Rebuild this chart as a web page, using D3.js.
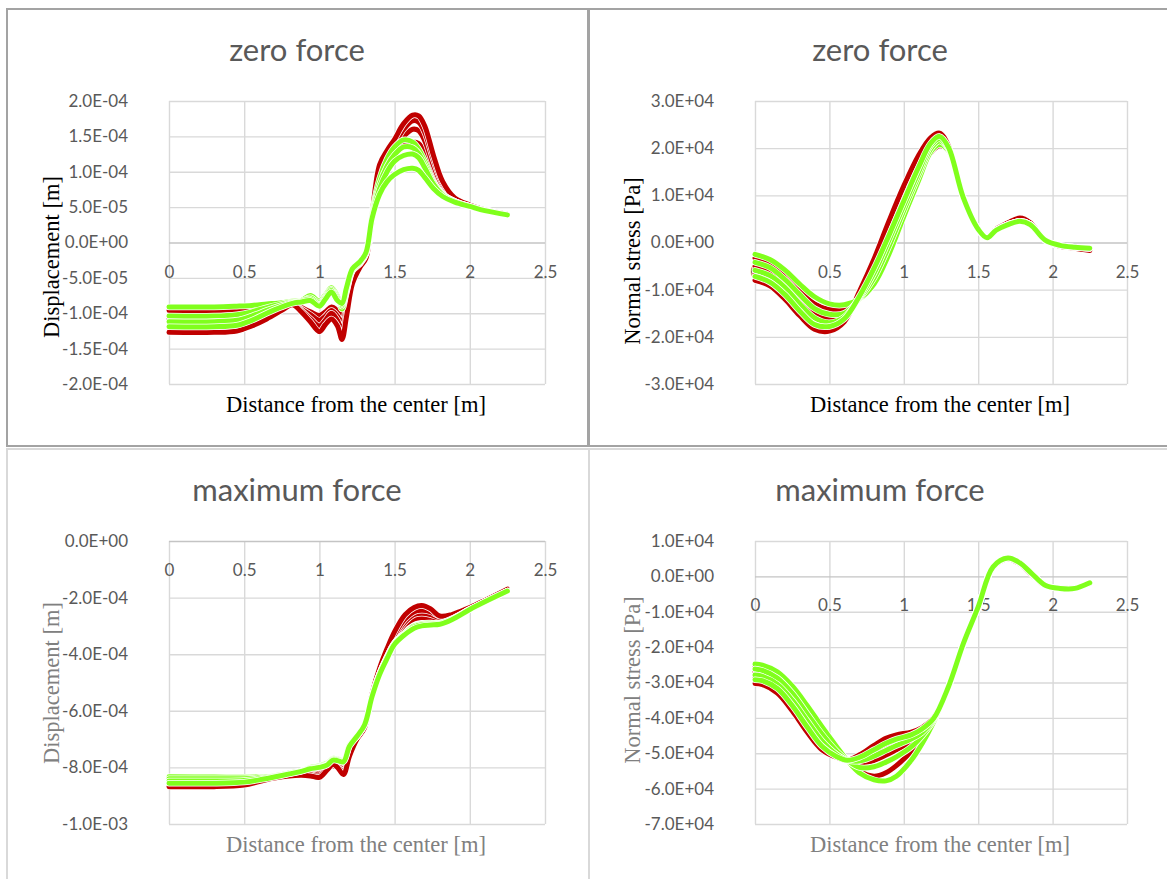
<!DOCTYPE html>
<html>
<head>
<meta charset="utf-8">
<script src="https://cdn.jsdelivr.net/npm/d3@7"></script>
<style>
  html, body { margin: 0; padding: 0; background: #fff; }
  svg { display: block; }
</style>
</head>
<body>
<div id="chart"></div>
<script>
// ---------- data ----------
// Displacement, zero force (values in 1e-5 m)
const xZeroDisp = [0, 0.3, 0.45, 0.55, 0.65, 0.75, 0.82, 0.88, 0.94, 1.0, 1.04, 1.08, 1.12, 1.15, 1.18, 1.22, 1.27, 1.31, 1.35, 1.4, 1.45, 1.5, 1.56, 1.62, 1.66, 1.7, 1.76, 1.82, 1.9, 2.0, 2.1, 2.25];
const zeroDispRed = [
  [-9.6, -9.6, -9.5, -9.3, -9.0, -8.7, -8.6, -9.2, -9.8, -10.3, -9.8, -9.1, -9.6, -10.3, -8.5, -5.0, -3.2, -2.0, 3.0, 9.5, 11.5, 12.8, 13.8, 14.2, 14.0, 12.8, 9.8, 7.6, 6.0, 5.2, 4.6, 4.0],
  [-10.8, -10.8, -10.6, -10.2, -9.6, -9.0, -8.6, -9.4, -10.2, -11.0, -10.4, -9.6, -10.4, -11.5, -9.0, -5.2, -3.3, -2.0, 3.5, 10.0, 12.0, 13.5, 15.0, 16.0, 15.8, 14.4, 10.8, 8.0, 6.1, 5.2, 4.6, 4.0],
  [-12.0, -12.0, -11.8, -11.2, -10.3, -9.3, -8.7, -9.6, -10.8, -11.8, -11.0, -10.0, -11.0, -12.6, -9.8, -5.5, -3.4, -2.1, 3.8, 10.5, 12.5, 14.0, 16.0, 17.2, 17.0, 15.6, 11.6, 8.3, 6.2, 5.2, 4.6, 4.0],
  [-12.7, -12.7, -12.5, -11.8, -10.8, -9.6, -8.8, -9.8, -11.2, -12.6, -11.6, -10.8, -11.8, -13.7, -10.5, -5.8, -3.5, -2.2, 4.0, 11.0, 13.0, 14.6, 16.8, 18.0, 17.9, 16.5, 12.2, 8.6, 6.3, 5.3, 4.6, 4.0]
];
const zeroDispGreen = [
  [-9.1, -9.1, -9.0, -8.9, -8.7, -8.5, -8.3, -8.2, -7.5, -8.3, -7.4, -6.4, -7.6, -9.4, -7.0, -4.0, -3.0, -1.6, 4.0, 9.0, 11.8, 13.5, 14.5, 14.2, 13.2, 11.5, 8.5, 6.8, 5.8, 5.1, 4.5, 3.9],
  [-10.4, -10.4, -10.2, -9.8, -9.2, -8.7, -8.4, -8.3, -7.8, -8.6, -7.6, -6.6, -7.8, -9.0, -6.8, -3.9, -2.9, -1.5, 3.8, 8.2, 10.8, 12.4, 13.5, 13.4, 12.6, 11.0, 8.4, 6.8, 5.8, 5.1, 4.5, 3.9],
  [-11.2, -11.2, -11.0, -10.4, -9.6, -8.9, -8.5, -8.3, -8.0, -8.8, -7.8, -6.8, -8.0, -8.8, -6.6, -3.8, -2.8, -1.5, 3.6, 7.6, 10.0, 11.5, 12.3, 12.5, 12.0, 10.6, 8.2, 6.7, 5.8, 5.1, 4.5, 3.9],
  [-11.9, -11.9, -11.7, -11.0, -10.0, -9.1, -8.6, -8.4, -8.2, -9.0, -8.0, -7.0, -8.2, -8.6, -6.4, -3.7, -2.7, -1.4, 3.4, 6.8, 8.6, 9.6, 10.3, 10.5, 10.2, 9.2, 7.6, 6.5, 5.7, 5.1, 4.5, 3.9]
];

// Normal stress, zero force (values in 1e4 Pa)
const xZeroStress = [0, 0.1, 0.2, 0.3, 0.4, 0.5, 0.6, 0.7, 0.8, 0.9, 1.0, 1.1, 1.18, 1.24, 1.3, 1.4, 1.5, 1.56, 1.62, 1.7, 1.78, 1.85, 1.95, 2.05, 2.15, 2.25];
const zeroStressRed = [
  [-0.33, -0.45, -0.70, -1.02, -1.30, -1.42, -1.40, -1.15, -0.65, 0.05, 0.75, 1.45, 1.90, 2.05, 1.95, 0.95, 0.28, 0.10, 0.28, 0.42, 0.50, 0.41, 0.05, -0.08, -0.12, -0.15],
  [-0.50, -0.62, -0.88, -1.22, -1.52, -1.62, -1.55, -1.15, -0.55, 0.18, 0.90, 1.60, 2.05, 2.20, 2.00, 0.95, 0.28, 0.10, 0.28, 0.42, 0.51, 0.41, 0.05, -0.08, -0.12, -0.16],
  [-0.66, -0.78, -1.05, -1.40, -1.70, -1.80, -1.62, -1.10, -0.45, 0.32, 1.05, 1.72, 2.15, 2.28, 2.02, 0.95, 0.28, 0.10, 0.28, 0.42, 0.52, 0.42, 0.05, -0.08, -0.12, -0.16],
  [-0.80, -0.92, -1.20, -1.55, -1.84, -1.88, -1.68, -1.05, -0.35, 0.45, 1.20, 1.85, 2.22, 2.32, 2.05, 0.95, 0.28, 0.10, 0.28, 0.42, 0.52, 0.42, 0.05, -0.08, -0.12, -0.17]
];
const zeroStressGreen = [
  [-0.25, -0.36, -0.58, -0.88, -1.15, -1.30, -1.32, -1.20, -0.88, -0.25, 0.55, 1.32, 1.92, 2.08, 1.95, 0.95, 0.28, 0.10, 0.26, 0.38, 0.45, 0.38, 0.05, -0.06, -0.10, -0.12],
  [-0.42, -0.53, -0.78, -1.10, -1.40, -1.52, -1.50, -1.20, -0.75, -0.08, 0.68, 1.42, 1.98, 2.15, 1.98, 0.95, 0.28, 0.10, 0.26, 0.38, 0.45, 0.38, 0.05, -0.06, -0.10, -0.12],
  [-0.59, -0.70, -0.95, -1.30, -1.60, -1.70, -1.58, -1.18, -0.65, 0.05, 0.78, 1.50, 2.05, 2.20, 2.00, 0.95, 0.28, 0.10, 0.26, 0.38, 0.45, 0.38, 0.05, -0.06, -0.10, -0.12],
  [-0.72, -0.84, -1.10, -1.45, -1.74, -1.78, -1.62, -1.15, -0.55, 0.15, 0.88, 1.60, 2.10, 2.25, 2.02, 0.95, 0.28, 0.10, 0.26, 0.38, 0.45, 0.38, 0.05, -0.06, -0.10, -0.12]
];

// Displacement, maximum force (values in 1e-4 m)
const xMaxDisp = [0, 0.3, 0.5, 0.6, 0.7, 0.8, 0.88, 0.94, 1.0, 1.05, 1.09, 1.12, 1.16, 1.2, 1.25, 1.3, 1.35, 1.4, 1.45, 1.5, 1.57, 1.63, 1.68, 1.74, 1.8, 1.88, 2.0, 2.1, 2.25];
const maxDispRed = [
  [-8.50, -8.50, -8.46, -8.38, -8.30, -8.22, -8.18, -8.18, -8.20, -7.95, -7.85, -7.90, -8.00, -7.45, -6.98, -6.60, -5.40, -4.55, -3.95, -3.40, -2.95, -2.75, -2.70, -2.72, -2.75, -2.65, -2.38, -2.12, -1.73],
  [-8.55, -8.55, -8.50, -8.42, -8.33, -8.25, -8.22, -8.22, -8.25, -8.00, -7.90, -7.95, -8.05, -7.50, -7.00, -6.60, -5.40, -4.50, -3.90, -3.35, -2.85, -2.60, -2.55, -2.60, -2.70, -2.62, -2.36, -2.10, -1.72],
  [-8.62, -8.62, -8.56, -8.46, -8.36, -8.28, -8.25, -8.26, -8.30, -8.05, -7.95, -7.98, -8.15, -7.55, -7.00, -6.60, -5.40, -4.50, -3.85, -3.30, -2.75, -2.50, -2.45, -2.50, -2.65, -2.60, -2.35, -2.10, -1.71],
  [-8.68, -8.68, -8.62, -8.50, -8.38, -8.30, -8.28, -8.30, -8.35, -8.10, -7.90, -8.00, -8.25, -7.60, -7.00, -6.60, -5.40, -4.50, -3.80, -3.20, -2.60, -2.35, -2.28, -2.40, -2.65, -2.60, -2.35, -2.10, -1.70]
];
const maxDispGreen = [
  [-8.33, -8.34, -8.35, -8.33, -8.30, -8.20, -8.12, -8.00, -7.95, -7.85, -7.68, -7.70, -7.74, -7.20, -6.90, -6.50, -5.50, -4.70, -4.10, -3.60, -3.25, -3.00, -2.92, -2.90, -2.90, -2.75, -2.42, -2.15, -1.77],
  [-8.40, -8.40, -8.40, -8.36, -8.30, -8.20, -8.12, -8.02, -7.97, -7.88, -7.70, -7.72, -7.76, -7.20, -6.90, -6.50, -5.50, -4.70, -4.10, -3.60, -3.25, -3.00, -2.93, -2.92, -2.91, -2.76, -2.42, -2.15, -1.77],
  [-8.48, -8.48, -8.46, -8.40, -8.32, -8.22, -8.13, -8.04, -7.99, -7.90, -7.72, -7.74, -7.78, -7.22, -6.90, -6.50, -5.50, -4.70, -4.12, -3.62, -3.28, -3.04, -2.96, -2.94, -2.92, -2.77, -2.42, -2.15, -1.77],
  [-8.56, -8.56, -8.52, -8.44, -8.34, -8.23, -8.14, -8.05, -8.00, -7.92, -7.74, -7.76, -7.80, -7.25, -6.90, -6.50, -5.50, -4.72, -4.15, -3.65, -3.30, -3.08, -3.00, -2.97, -2.94, -2.78, -2.42, -2.15, -1.77]
];

// Normal stress, maximum force (values in 1e4 Pa)
const xMaxStress = [0, 0.05, 0.15, 0.25, 0.35, 0.45, 0.55, 0.62, 0.7, 0.8, 0.88, 0.95, 1.05, 1.12, 1.2, 1.3, 1.4, 1.5, 1.6, 1.7, 1.78, 1.86, 1.95, 2.05, 2.15, 2.25];
const maxStressRed = [
  [-2.55, -2.58, -2.78, -3.20, -3.78, -4.38, -4.90, -5.20, -5.50, -5.65, -5.55, -5.35, -4.95, -4.60, -4.10, -3.12, -1.90, -0.86, 0.25, 0.50, 0.35, 0.05, -0.26, -0.33, -0.33, -0.20],
  [-2.70, -2.74, -2.95, -3.40, -3.98, -4.55, -5.00, -5.20, -5.30, -5.20, -5.05, -4.90, -4.68, -4.45, -4.05, -3.12, -1.90, -0.86, 0.25, 0.50, 0.35, 0.05, -0.26, -0.33, -0.33, -0.20],
  [-2.86, -2.90, -3.12, -3.60, -4.20, -4.75, -5.08, -5.20, -5.15, -4.95, -4.78, -4.65, -4.52, -4.35, -4.02, -3.12, -1.90, -0.86, 0.25, 0.50, 0.35, 0.05, -0.26, -0.33, -0.33, -0.20],
  [-3.03, -3.06, -3.30, -3.80, -4.40, -4.90, -5.12, -5.20, -5.05, -4.78, -4.58, -4.48, -4.40, -4.28, -4.00, -3.12, -1.90, -0.86, 0.25, 0.50, 0.35, 0.05, -0.26, -0.33, -0.33, -0.20]
];
const maxStressGreen = [
  [-2.48, -2.51, -2.70, -3.10, -3.65, -4.25, -4.82, -5.20, -5.55, -5.75, -5.78, -5.65, -5.20, -4.75, -4.12, -3.12, -1.90, -0.86, 0.27, 0.52, 0.38, 0.08, -0.25, -0.34, -0.34, -0.18],
  [-2.62, -2.66, -2.87, -3.30, -3.88, -4.46, -4.95, -5.20, -5.40, -5.38, -5.25, -5.10, -4.82, -4.52, -4.07, -3.12, -1.90, -0.86, 0.27, 0.52, 0.38, 0.08, -0.25, -0.34, -0.34, -0.18],
  [-2.79, -2.83, -3.05, -3.50, -4.08, -4.65, -5.04, -5.20, -5.22, -5.08, -4.92, -4.78, -4.60, -4.42, -4.04, -3.12, -1.90, -0.86, 0.27, 0.52, 0.38, 0.08, -0.25, -0.34, -0.34, -0.18],
  [-2.92, -2.95, -3.17, -3.65, -4.25, -4.80, -5.10, -5.20, -5.12, -4.90, -4.72, -4.60, -4.48, -4.32, -4.02, -3.12, -1.90, -0.86, 0.27, 0.52, 0.38, 0.08, -0.25, -0.34, -0.34, -0.18]
];

// axis ticks
const xTicks = [0, 0.5, 1, 1.5, 2, 2.5];
const yTicksZeroDisp = [2e-4, 1.5e-4, 1e-4, 5e-5, 0, -5e-5, -1e-4, -1.5e-4, -2e-4];
const yTicksZeroStress = [3e4, 2e4, 1e4, 0, -1e4, -2e4, -3e4];
const yTicksMaxDisp = [0, -2e-4, -4e-4, -6e-4, -8e-4, -1e-3];
const yTicksMaxStress = [1e4, 0, -1e4, -2e4, -3e4, -4e4, -5e4, -6e4, -7e4];

const titles = ["zero force", "zero force", "maximum force", "maximum force"];
const xTitle = "Distance from the center [m]";
const yTitles = ["Displacement [m]", "Normal stress [Pa]", "Displacement [m]", "Normal stress [Pa]"];

// ---------- drawing ----------
const W = 1167, H = 879;
const RED = "#C00000", GREEN = "#80FF1C";
const SERIF = "'Liberation Serif', 'Times New Roman', serif";
const SANS = "Lato, 'Open Sans', sans-serif";
const svg = d3.select("#chart").append("svg").attr("width", W).attr("height", H);
svg.append("rect").attr("width", W).attr("height", H).attr("fill", "#fff");

// Excel-style scientific labels, e.g. 1.5E-04
function sci(v) {
  if (v === 0) return "0.0E+00";
  let e = Math.floor(Math.log10(Math.abs(v)) + 1e-9);
  let m = v / Math.pow(10, e);
  return m.toFixed(1) + "E" + (e < 0 ? "-" : "+") + String(Math.abs(e)).padStart(2, "0");
}

const panels = [
  { xs: xZeroDisp, reds: zeroDispRed, greens: zeroDispGreen, unit: 1e-5, yDomain: [-2e-4, 2e-4], yTicks: yTicksZeroDisp,
    plot: [169, 101, 545, 384], titleX: 297, titleY: 61, yTitleX: 59, yTitleY: 257, xTitleY: 412, axisTitleColor: "#000" },
  { xs: xZeroStress, reds: zeroStressRed, greens: zeroStressGreen, unit: 1e4, yDomain: [-3e4, 3e4], yTicks: yTicksZeroStress,
    plot: [755, 101, 1127, 384], titleX: 880, titleY: 61, yTitleX: 640, yTitleY: 261, xTitleY: 412, axisTitleColor: "#000" },
  { xs: xMaxDisp, reds: maxDispRed, greens: maxDispGreen, unit: 1e-4, yDomain: [-1e-3, 0], yTicks: yTicksMaxDisp,
    plot: [169, 541, 545, 824], titleX: 297, titleY: 501, yTitleX: 59, yTitleY: 683, xTitleY: 852, axisTitleColor: "#808080" },
  { xs: xMaxStress, reds: maxStressRed, greens: maxStressGreen, unit: 1e4, yDomain: [-7e4, 1e4], yTicks: yTicksMaxStress,
    plot: [755, 541, 1127, 824], titleX: 880, titleY: 501, yTitleX: 640, yTitleY: 680, xTitleY: 852, axisTitleColor: "#808080" }
];

// chart frames
svg.append("rect").attr("x", 7).attr("y", 449).attr("width", 582).attr("height", 440)
  .attr("fill", "none").attr("stroke", "#d9d9d9").attr("stroke-width", 2);
svg.append("rect").attr("x", 589).attr("y", 449).attr("width", 600).attr("height", 440)
  .attr("fill", "none").attr("stroke", "#d9d9d9").attr("stroke-width", 2);
svg.append("rect").attr("x", 7).attr("y", 9).attr("width", 581).attr("height", 437)
  .attr("fill", "none").attr("stroke", "#a3a3a3").attr("stroke-width", 2);
svg.append("rect").attr("x", 589).attr("y", 9).attr("width", 600).attr("height", 437)
  .attr("fill", "none").attr("stroke", "#a3a3a3").attr("stroke-width", 2);

panels.forEach((p, i) => {
  const [left, top, right, bottom] = p.plot;
  const x = d3.scaleLinear().domain([0, 2.5]).range([left, right]);
  const y = d3.scaleLinear().domain(p.yDomain).range([bottom, top]);
  const g = svg.append("g");

  // gridlines
  g.append("g").attr("transform", `translate(0,${top})`)
    .call(d3.axisBottom(x).tickValues(xTicks).tickSize(bottom - top).tickFormat(""))
    .call(a => a.select(".domain").remove())
    .call(a => a.selectAll("line").attr("stroke", "#d9d9d9").attr("stroke-width", 1.4));
  g.append("g").attr("transform", `translate(${left},0)`)
    .call(d3.axisRight(y).tickValues(p.yTicks).tickSize(right - left).tickFormat(""))
    .call(a => a.select(".domain").remove())
    .call(a => a.selectAll("line").attr("stroke", d => d === 0 ? "#c4c4c4" : "#d9d9d9").attr("stroke-width", 1.4));

  // y tick labels
  g.append("g").attr("transform", `translate(${128 + (left - 169)},0)`)
    .call(d3.axisLeft(y).tickValues(p.yTicks).tickSize(0).tickPadding(0).tickFormat(sci))
    .call(a => a.select(".domain").remove())
    .call(a => a.selectAll("text").attr("fill", "#595959").attr("font-family", SANS).attr("font-size", 17));

  // x tick labels, hung under the zero line
  g.append("g").attr("transform", `translate(0,${y(0)})`)
    .call(d3.axisBottom(x).tickValues(xTicks).tickSize(0).tickPadding(23).tickFormat(d3.format("")))
    .call(a => a.select(".domain").remove())
    .call(a => a.selectAll("text").attr("fill", "#595959").attr("font-family", SANS).attr("font-size", 17));

  // series
  const line = d3.line()
    .x((d, k) => x(p.xs[k]))
    .y(d => y(d * p.unit))
    .curve(d3.curveCatmullRom.alpha(0.5));
  const series = [];
  p.reds.forEach(s => series.push({ v: s, c: RED }));
  p.greens.forEach(s => series.push({ v: s, c: GREEN }));
  const sg = g.append("g");
  series.forEach(s => {
    sg.append("path").attr("d", line(s.v)).attr("fill", "none")
      .attr("stroke", "#fff").attr("stroke-width", 6.5).attr("stroke-linejoin", "round").attr("stroke-linecap", "round");
    sg.append("path").attr("d", line(s.v)).attr("fill", "none")
      .attr("stroke", s.c).attr("stroke-width", 5).attr("stroke-linejoin", "round").attr("stroke-linecap", "round");
  });

  // titles
  svg.append("text").attr("x", p.titleX).attr("y", p.titleY)
    .attr("text-anchor", "middle").attr("fill", "#595959")
    .attr("font-family", SANS).attr("font-size", 31).text(titles[i]);
  svg.append("text").attr("x", (left + right) / 2 - 1).attr("y", p.xTitleY)
    .attr("text-anchor", "middle").attr("fill", p.axisTitleColor)
    .attr("font-family", SERIF).attr("font-size", 22.5).text(xTitle);
  svg.append("text").attr("transform", `translate(${p.yTitleX},${p.yTitleY}) rotate(-90)`)
    .attr("text-anchor", "middle").attr("fill", p.axisTitleColor)
    .attr("font-family", SERIF).attr("font-size", 22.5).text(yTitles[i]);
});
</script>
</body>
</html>
